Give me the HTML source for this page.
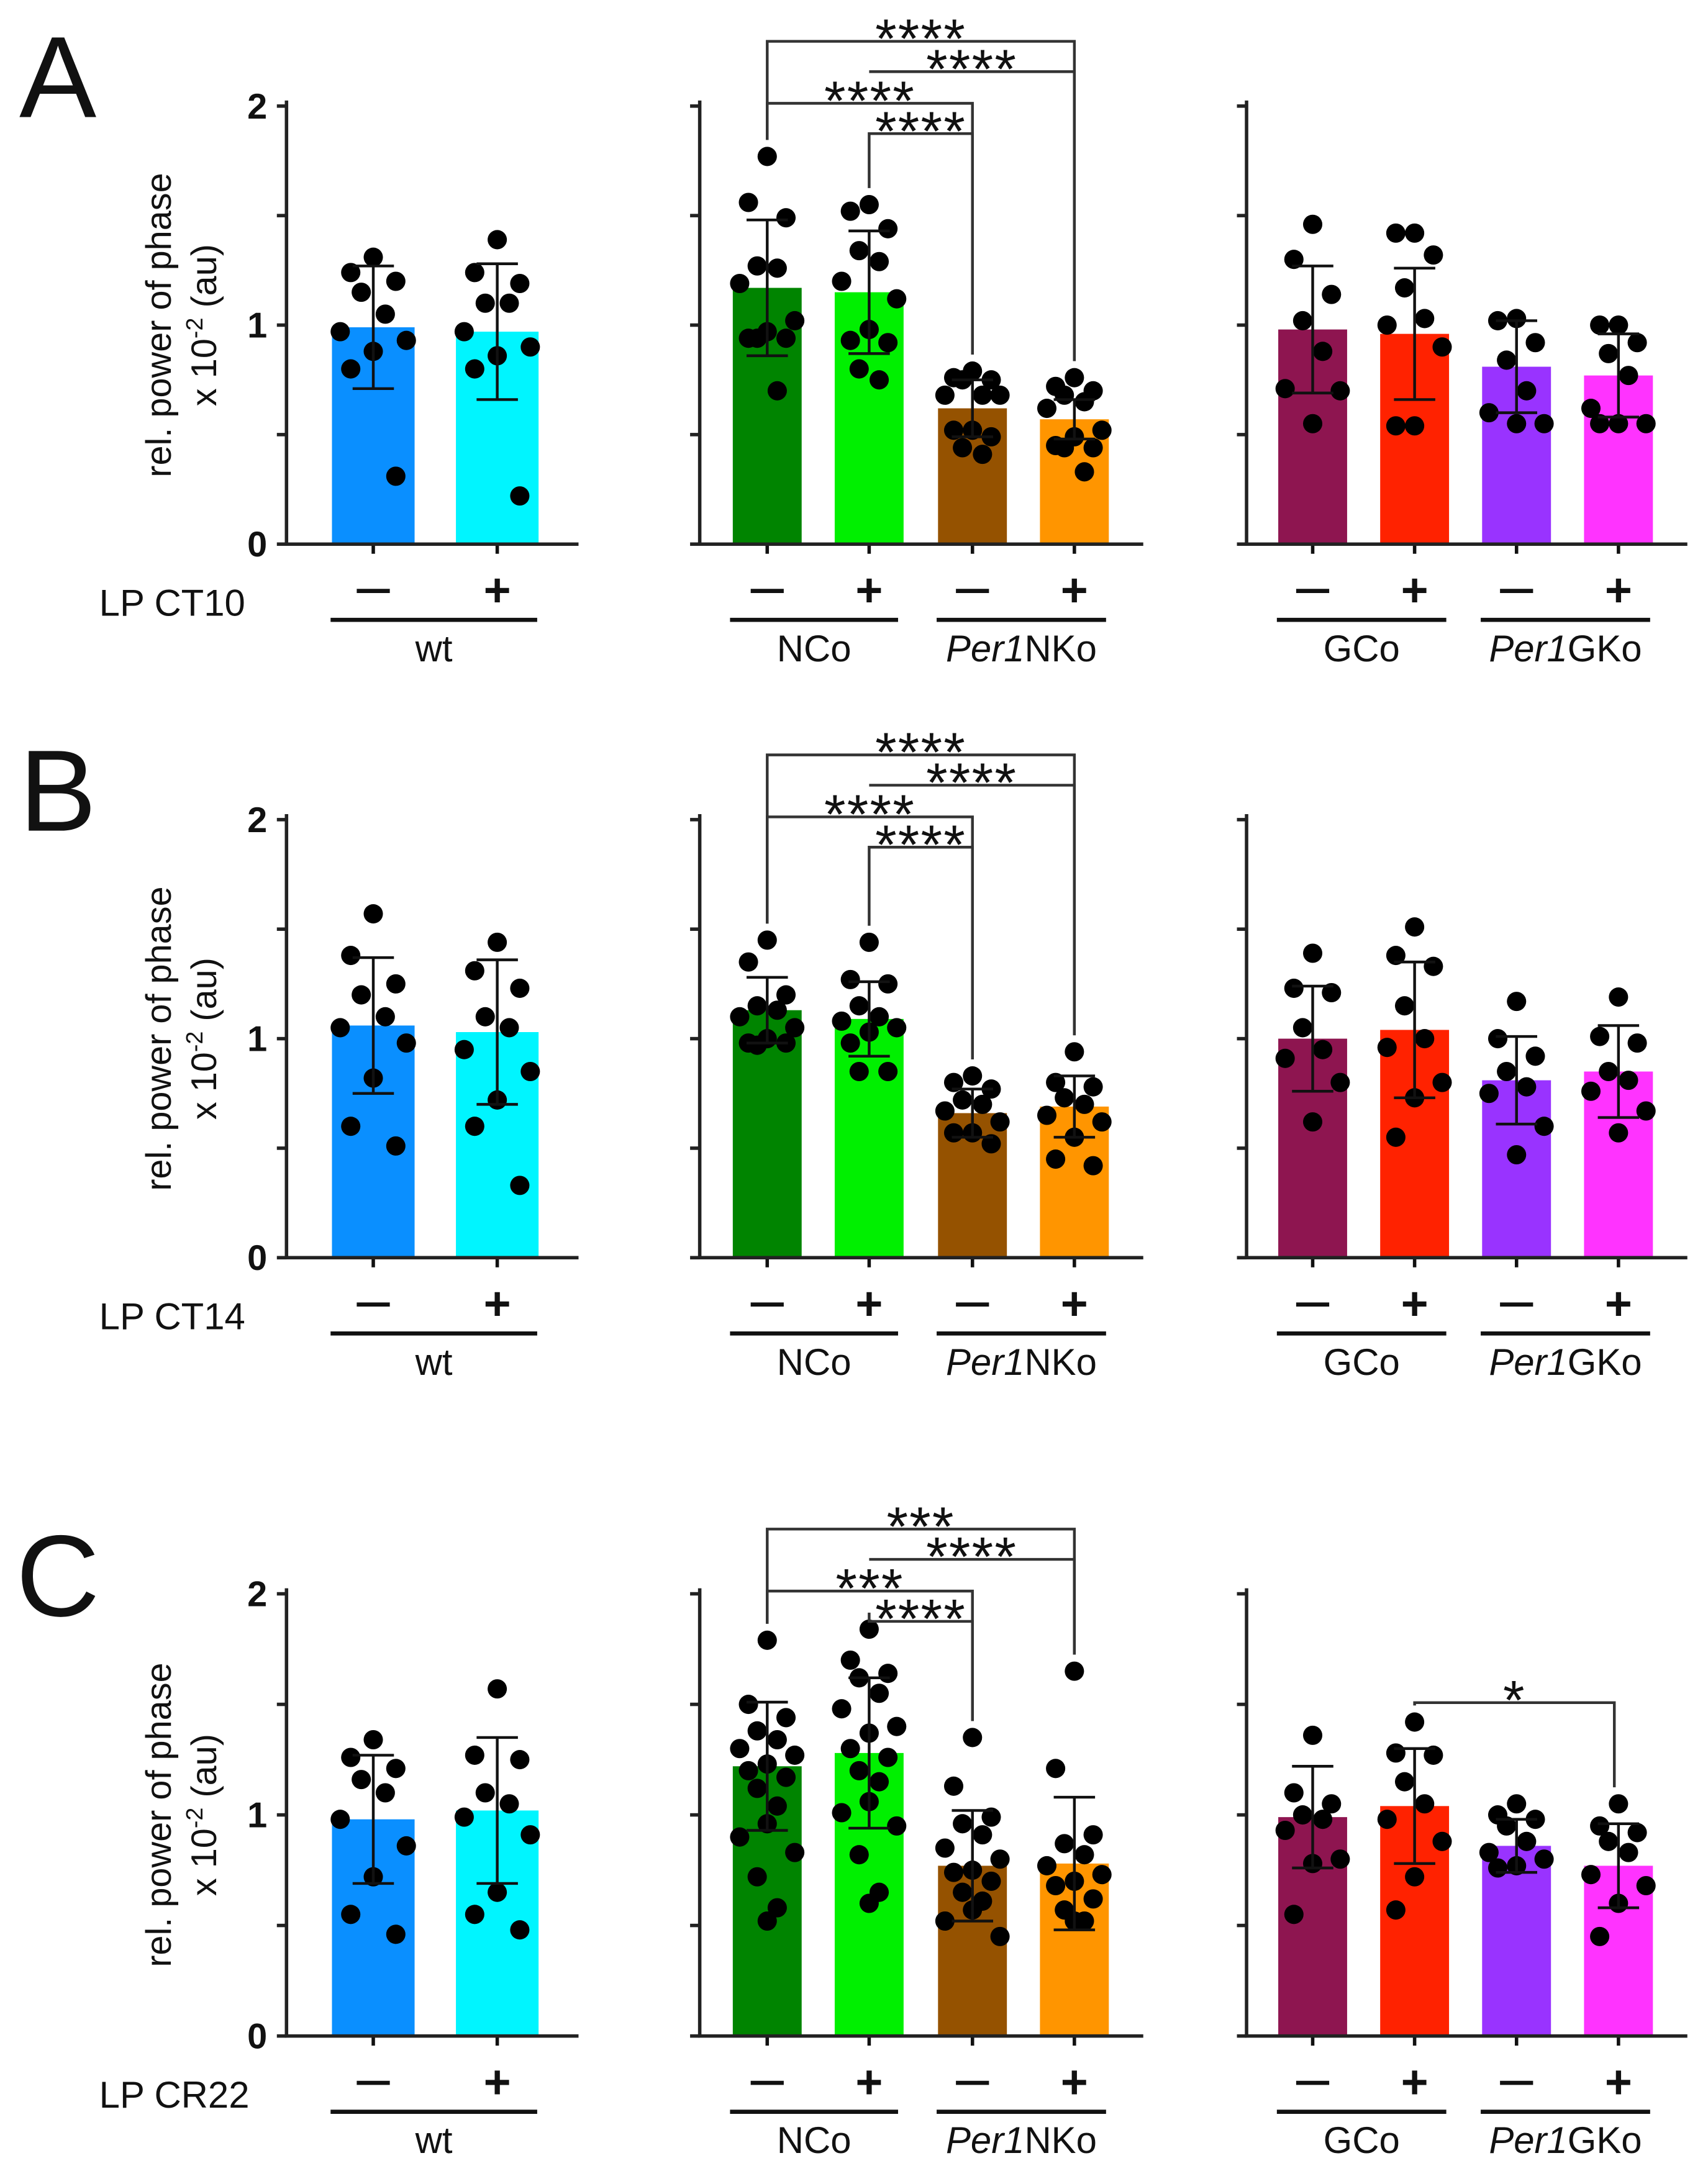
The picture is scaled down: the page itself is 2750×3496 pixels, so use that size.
<!DOCTYPE html>
<html><head><meta charset="utf-8">
<style>
html,body{margin:0;padding:0;background:#fff;}
svg{display:block;}
text{font-family:"Liberation Sans",sans-serif;fill:#111;}
</style></head>
<body>
<svg id="fig" width="2750" height="3496" viewBox="0 0 1240 1576" preserveAspectRatio="none" xmlns="http://www.w3.org/2000/svg"></svg>
<script>
// ---- data ----
const rowLetters = ["A","B","C"];
const rowLP = ["LP CT10","LP CT14","LP CR22"];
const leftColors = ["#0a8fff","#00f5ff"];
const midColors = ["#008400","#00f000","#955200","#ff9500"];
const rightColors = ["#8e1550","#ff2200","#9933ff","#ff33ff"];
const leftMeans = [[0.99,0.97],[1.06,1.03],[0.98,1.02]];
const leftSD = [[0.28,0.31],[0.31,0.33],[0.29,0.33]];
const leftPts = [
 [[1.31,1.24,1.20,1.15,1.05,0.97,0.93,0.88,0.80,0.31],[1.39,1.24,1.19,1.10,1.10,0.97,0.90,0.86,0.80,0.22]],
 [[1.57,1.38,1.25,1.20,1.10,1.05,0.98,0.82,0.60,0.51],[1.44,1.31,1.23,1.10,1.05,0.95,0.85,0.72,0.60,0.33]],
 [[1.34,1.26,1.21,1.16,1.10,0.98,0.86,0.72,0.55,0.46],[1.57,1.27,1.25,1.10,1.05,0.99,0.91,0.65,0.55,0.48]]];
const midMeans = [[1.17,1.15,0.62,0.57],[1.13,1.09,0.66,0.69],[1.22,1.28,0.77,0.78]];
const midSD = [[0.31,0.28,0.13,0.09],[0.15,0.17,0.11,0.14],[0.29,0.34,0.25,0.30]];
const midPts = [
 [[1.77,1.56,1.49,1.27,1.26,1.19,1.02,0.97,0.94,0.94,0.94,0.70],
  [1.55,1.52,1.44,1.34,1.29,1.20,1.12,0.98,0.93,0.92,0.80,0.75],
  [0.79,0.76,0.75,0.75,0.68,0.68,0.68,0.52,0.52,0.49,0.44,0.41],
  [0.76,0.72,0.70,0.68,0.65,0.62,0.52,0.49,0.45,0.44,0.44,0.33]],
 [[1.45,1.35,1.20,1.15,1.13,1.10,1.05,1.00,0.98,0.98,0.97],
  [1.44,1.27,1.25,1.15,1.10,1.08,1.05,1.03,0.98,0.85,0.85],
  [0.83,0.80,0.77,0.72,0.70,0.67,0.62,0.57,0.57,0.52],
  [0.94,0.80,0.78,0.73,0.70,0.65,0.62,0.55,0.45,0.42]],
 [[1.79,1.50,1.44,1.38,1.34,1.30,1.27,1.23,1.20,1.17,1.12,1.04,0.96,0.90,0.83,0.72,0.58,0.52],
  [1.84,1.70,1.64,1.62,1.55,1.48,1.40,1.37,1.30,1.26,1.20,1.15,1.06,1.01,0.95,0.82,0.65,0.60],
  [1.35,1.13,0.99,0.96,0.91,0.85,0.80,0.75,0.74,0.70,0.65,0.61,0.57,0.52,0.45],
  [1.65,1.21,0.91,0.87,0.82,0.77,0.73,0.70,0.68,0.62,0.57,0.52,0.52]]];
const rightMeans = [[0.98,0.96,0.81,0.77],[1.00,1.04,0.81,0.85],[0.99,1.04,0.86,0.77]];
const rightSD = [[0.29,0.30,0.21,0.19],[0.24,0.31,0.20,0.21],[0.23,0.26,0.12,0.19]];
const rightPts = [
 [[1.46,1.30,1.14,1.02,0.88,0.71,0.70,0.55],[1.42,1.42,1.32,1.17,1.03,1.00,0.90,0.54,0.54],
  [1.03,1.02,0.92,0.84,0.70,0.60,0.55,0.55],[1.00,1.00,0.92,0.87,0.77,0.62,0.55,0.55,0.55]],
 [[1.39,1.23,1.21,1.05,0.95,0.91,0.80,0.62],[1.51,1.38,1.33,1.15,1.00,0.96,0.80,0.73,0.55],
  [1.17,1.00,0.92,0.85,0.78,0.75,0.60,0.47],[1.19,1.01,0.98,0.85,0.81,0.76,0.67,0.57]],
 [[1.36,1.10,1.05,1.00,0.98,0.93,0.80,0.78,0.55],[1.42,1.28,1.27,1.15,1.05,0.98,0.88,0.72,0.57],
  [1.05,1.00,0.98,0.95,0.88,0.83,0.80,0.77,0.76],[1.05,0.95,0.92,0.88,0.83,0.73,0.68,0.60,0.45]]];
const midSigLabels = [["****","****","****","****"],["****","****","****","****"],["***","****","***","****"]];
const groupLabelsMid = ["NCo","Per1NKo"];
const groupLabelsRight = ["GCo","Per1GKo"];
const yTicks = [0,0.5,1,1.5,2];
const yTickLabels = ["0","","1","","2"];

// ---- layout ----
const NS="http://www.w3.org/2000/svg";
const svg=document.getElementById('fig');
const rowY0=[395,913,1478], rowY2=[77,595,1157];
function el(tag,attrs,parent){const e=document.createElementNS(NS,tag);for(const k in attrs)e.setAttribute(k,attrs[k]);(parent||svg).appendChild(e);return e;}
function txt(s,x,y,size,anchor,parent,extra){const t=el('text',Object.assign({x:x,y:y,'font-size':size,'text-anchor':anchor||'middle'},extra||{}),parent);t.textContent=s;return t;}
const jit=[0,-15,15,-8,8,-22,22,0,-15,15,-8,8,0,-22,22,-8,8,0];

function drawPanel(r,axX,axEnd,centers,bw,colors,means,sds,pts,name){
  const y0=rowY0[r],y2=rowY2[r];
  const ys=v=>y0-(y2-y0)*-v/2;
  const g=el('g',{},svg);
  
  
  centers.forEach((cx,i)=>{
    const b=el('rect',{x:cx-bw/2,y:ys(means[i]),width:bw,height:y0-ys(means[i]),fill:colors[i]},g);
    
    
    pts[i].forEach((v,k)=>{
      const c=el('circle',{cx:cx+jit[k%jit.length]*(bw/55),cy:ys(v),r:7,fill:'#000'},g);
      
      
    });
    const t=ys(means[i]+sds[i]),bo=ys(means[i]-sds[i]);
    const e=el('path',{d:`M${cx},${t}V${bo}M${cx-15},${t}H${cx+15}M${cx-15},${bo}H${cx+15}`,stroke:'#111','stroke-width':2,fill:'none'},g);
    
    
    el('line',{x1:cx,y1:y0,x2:cx,y2:y0+7,stroke:'#111','stroke-width':2.5},g);
  });
  const ax=el('path',{d:`M${axX},${ys(2)-4}V${y0}H${axEnd}`,stroke:'#222','stroke-width':2.5,fill:'none'},g);
  
  
  yTicks.forEach((v,i)=>{
    el('line',{x1:axX-7,y1:ys(v),x2:axX,y2:ys(v),stroke:'#222','stroke-width':2.5},g);
    if(axX<300&&yTickLabels[i]){const t=txt(yTickLabels[i],axX-14,ys(v)+9,26,'end',g,{'font-weight':'bold'});}
  });
  centers.forEach((cx,i)=>{
    if(i%2===0){el('line',{x1:cx-12,y1:y0+34,x2:cx+12,y2:y0+34,stroke:'#111','stroke-width':3},g);}
    else{txt('+',cx,y0+45,34,'middle',g,{'font-weight':'bold'});}
  });
  return ys;
}
function under(x1,x2,y,label,r,italicPart){
  el('line',{x1:x1,y1:y,x2:x2,y2:y,stroke:'#111','stroke-width':3});
  const t=el('text',{x:(x1+x2)/2,y:y+30,'font-size':27,'text-anchor':'middle'});
  if(italicPart){const a=el('tspan',{'font-style':'italic'},t);a.textContent='Per1';const b=el('tspan',{},t);b.textContent=label.replace('Per1','');}
  else t.textContent=label;
  
  
}
function bracket(x1,x2,y,yl,yr,label){
  const p=el('path',{d:`M${x1},${yl}V${y}H${x2}V${yr}`,stroke:'#333','stroke-width':2,fill:'none'});
  
  
  const t=txt(label,(x1+x2)/2,y+12,40,'middle',null,{'letter-spacing':'1'});
  
  
}

for(let r=0;r<3;r++){
  const y0=rowY0[r];
  const L=txt(rowLetters[r],42,y0-310+(r===2?5:0),84,'middle');
  
  
  drawPanel(r,208,420,[271,361],60,leftColors,leftMeans[r],leftSD[r],leftPts[r],'left-panel');
  const ysM=drawPanel(r,508,830,[557,631,706,780],50,midColors,midMeans[r],midSD[r],midPts[r],'middle-panel');
  const ysR=drawPanel(r,905,1225,[953,1027,1101,1175],50,rightColors,rightMeans[r],rightSD[r],rightPts[r],'right-panel');
  const cy=(y0+rowY2[r])/2;
  const t1=txt('rel. power of phase',124,cy,26,'middle',null,{transform:`rotate(-90 124 ${cy})`});
  
  const t2=el('text',{x:157,y:cy,'font-size':26,'text-anchor':'middle',transform:`rotate(-90 157 ${cy})`});
  t2.textContent='x 10';const sp=el('tspan',{dy:-10,'font-size':17},t2);sp.textContent='-2';const sp2=el('tspan',{dy:10},t2);sp2.textContent=' (au)';
  
  const lp=txt(rowLP[r],72,y0+52,27,'start');
  
  under(240,390,y0+55,'wt',r,false);
  under(530,652,y0+55,groupLabelsMid[0],r,false);
  under(680,803,y0+55,groupLabelsMid[1],r,true);
  under(927,1050,y0+55,groupLabelsRight[0],r,false);
  under(1075,1198,y0+55,groupLabelsRight[1],r,true);
  const top=rowY2[r]-47;
  const mp=midPts[r];
  const mx=a=>ysM(Math.max(...a))-12;
  bracket(557,780,top,mx(mp[0]),mx(mp[3]),midSigLabels[r][0]);
  bracket(631,780,top+22,top+22,mx(mp[3]),midSigLabels[r][1]);
  bracket(557,706,top+45,mx(mp[0]),mx(mp[2]),midSigLabels[r][2]);
  bracket(631,706,top+67,mx(mp[1]),mx(mp[2]),midSigLabels[r][3]);
  if(r===2){const rp=rightPts[r];bracket(1027,1172,1236,ysR(Math.max(...rp[1]))-12,ysR(Math.max(...rp[3]))-12,'*');}
}
</script>
</body></html>
